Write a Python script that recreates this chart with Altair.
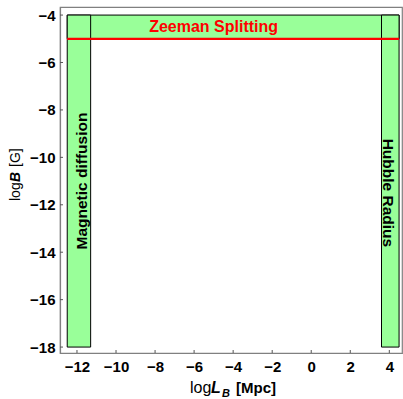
import altair as alt
import pandas as pd

# ---- data ----
x_ticks = [-12, -10, -8, -6, -4, -2, 0, 2, 4]
y_ticks = [-18, -16, -14, -12, -10, -8, -6, -4]

region_names = ["Zeeman band", "Magnetic diffusion", "Hubble Radius"]
region_x0 = [-12.5, -12.5, 3.6]
region_x1 = [4.5, -11.3, 4.5]
region_y0 = [-5.0, -18.0, -18.0]
region_y1 = [-4.0, -4.0, -4.0]

zeeman_x = [-12.5, 4.5]
zeeman_y = -5.0

label_texts = ["Zeeman Splitting", "Magnetic diffusion", "Hubble Radius"]
label_x = [-5.0, -11.75, 3.95]
label_y = [-4.5, -11.0, -11.5]

# ---- layout ----
W, H = 342, 346
FONT = "Liberation Sans"
xs = alt.Scale(domain=[-12.87, 4.65], nice=False, zero=False)
ys = alt.Scale(domain=[-18.25, -3.66], nice=False, zero=False)

x_axis = alt.Axis(values=x_ticks, title=None, ticks=False, labelPadding=6,
                  labelFont=FONT, labelFontSize=15, labelFontWeight="bold",
                  labelColor="black", domainColor="#808080", domainWidth=1.2,
                  grid=False, format="d", labelFlush=False)
y_axis = alt.Axis(values=y_ticks, title=None, ticks=False, labelPadding=5,
                  labelFont=FONT, labelFontSize=15, labelFontWeight="bold",
                  labelColor="black", domainColor="#808080", domainWidth=1.2,
                  grid=False, format="d", labelFlush=False)

regions_df = pd.DataFrame({"name": region_names, "x0": region_x0, "x1": region_x1,
                           "y0": region_y0, "y1": region_y1})

rects = alt.Chart(regions_df).mark_rect(
    fill="#99FF99", stroke="black", strokeWidth=1
).encode(
    x=alt.X("x0:Q", scale=xs, axis=x_axis),
    x2="x1:Q",
    y=alt.Y("y0:Q", scale=ys, axis=y_axis),
    y2="y1:Q",
)

zee_df = pd.DataFrame({"xa": [zeeman_x[0]], "xb": [zeeman_x[1]], "y": [zeeman_y]})
zee_line = alt.Chart(zee_df).mark_rule(color="#FF0000", strokeWidth=2.2).encode(
    x=alt.X("xa:Q", scale=xs, axis=x_axis),
    x2="xb:Q",
    y=alt.Y("y:Q", scale=ys, axis=y_axis),
)

lab_df = pd.DataFrame({"t": label_texts, "x": label_x, "y": label_y})

def label_layer(i, angle, color, size):
    return alt.Chart(lab_df.iloc[[i]]).mark_text(
        angle=angle, color=color, font=FONT, fontSize=size, fontWeight="bold",
        align="center", baseline="middle"
    ).encode(
        x=alt.X("x:Q", scale=xs, axis=x_axis),
        y=alt.Y("y:Q", scale=ys, axis=y_axis),
        text="t:N",
    )

lab_zee = label_layer(0, 0, "#FF0000", 16)
lab_mag = label_layer(1, 270, "black", 15.5)
lab_hub = label_layer(2, 90, "black", 15.5)

# inward frame ticks
xt_df = pd.DataFrame({"t": x_ticks})
yt_df = pd.DataFrame({"t": y_ticks})
xtick_rules = alt.Chart(xt_df).mark_rule(color="#555555", strokeWidth=1).encode(
    x=alt.X("t:Q", scale=xs, axis=x_axis),
    y=alt.value(H), y2=alt.value(H - 3),
)
ytick_rules = alt.Chart(yt_df).mark_rule(color="#555555", strokeWidth=1).encode(
    y=alt.Y("t:Q", scale=ys, axis=y_axis),
    x=alt.value(0), x2=alt.value(3),
)

# axis titles built from styled pieces
one = pd.DataFrame({"a": [0]})

def piece(text, x, y, size, weight="normal", style="normal", angle=0):
    return alt.Chart(one).mark_text(
        text=text, font=FONT, fontSize=size, fontWeight=weight, fontStyle=style,
        angle=angle, align="left", baseline="alphabetic", color="black"
    ).encode(x=alt.value(x), y=alt.value(y))

xt_base = 386
x_title = [
    piece("log", 130, xt_base, 16),
    piece("L", 151, xt_base, 16, "bold", "italic"),
    piece("B", 162, xt_base + 4, 11, "bold", "italic"),
    piece("[Mpc]", 176, xt_base, 15, "bold"),
]
yt_base = -40
y_title = [
    piece("log", yt_base, 194, 14, angle=270),
    piece("B", yt_base, 175, 14, "bold", "italic", angle=270),
    piece("[G]", yt_base, 160, 14, angle=270),
]

chart = alt.layer(
    rects, zee_line, lab_zee, lab_mag, lab_hub, xtick_rules, ytick_rules,
    *x_title, *y_title
).properties(
    width=W, height=H,
    padding={"left": 60, "top": 7, "right": 1, "bottom": 46},
    autosize=alt.AutoSizeParams(type="none"),
).configure_view(
    stroke="#808080", strokeWidth=1.2
)

chart.save("out.html", embed_options={"renderer": "svg", "actions": False})
